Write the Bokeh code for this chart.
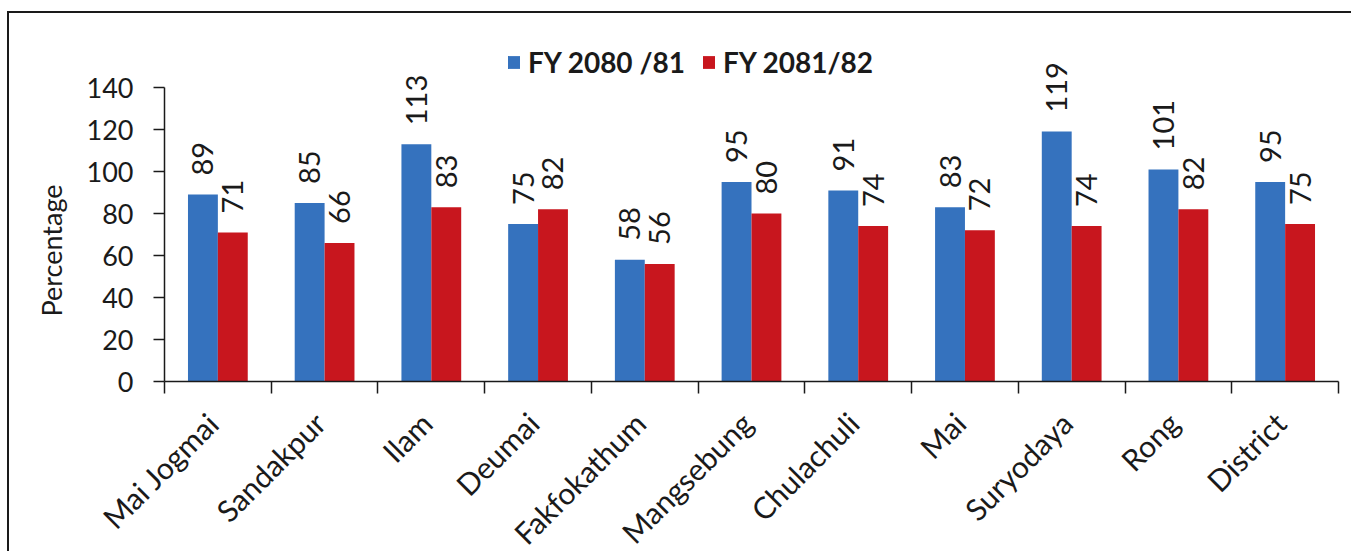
import math
from bokeh.plotting import figure
from bokeh.models import ColumnDataSource, Range1d, FixedTicker, Legend, LegendItem, Label
from bokeh.embed import file_html
from bokeh.resources import INLINE
from bokeh.core.properties import value
from bokeh.transform import dodge

categories = ["Mai Jogmai", "Sandakpur", "Ilam", "Deumai", "Fakfokathum", "Mangsebung",
              "Chulachuli", "Mai", "Suryodaya", "Rong", "District"]
fy_2080_81 = [89, 85, 113, 75, 58, 95, 91, 83, 119, 101, 95]
fy_2081_82 = [71, 66, 83, 82, 56, 80, 74, 72, 74, 82, 75]
series_names = ["FY 2080 /81", "FY 2081/82"]
y_ticks = [0, 20, 40, 60, 80, 100, 120, 140]
y_title = "Percentage"

BLUE = "#3572BE"
RED = "#C8161E"
INK = "#1a1a1a"
FONT = "Lato"

n = len(categories)
centers = [i + 0.5 for i in range(n)]
src = ColumnDataSource(dict(
    x=centers, cat=categories,
    a=fy_2080_81, b=fy_2081_82,
    ta=[str(v) for v in fy_2080_81], tb=[str(v) for v in fy_2081_82],
))

# layout (figure pixels): the plot frame fills the whole figure, the axes are pinned at 0
W, H = 1344, 540
AX, AY = 155, 368                 # where the y axis / x axis sit
CAT_PX = 1174.0 / n               # width of one category
PX_PER_UNIT = 294.0 / 140.0       # vertical scale
x_start = -AX / CAT_PX
x_end = (W - AX) / CAT_PX
y_end = AY / PX_PER_UNIT
y_start = -(H - AY) / PX_PER_UNIT

p = figure(width=W, height=H, output_backend="svg", toolbar_location=None,
           x_range=Range1d(x_start, x_end), y_range=Range1d(y_start, y_end),
           min_border_left=0, min_border_right=0, min_border_top=0, min_border_bottom=0)
p.styles = {"border-top": "2px solid #1a1a1a", "border-left": "2px solid #1a1a1a",
            "margin-top": "11px", "margin-left": "7px"}
p.outline_line_color = None
p.xgrid.visible = False
p.ygrid.visible = False

w = 0.28
r1 = p.vbar(x=dodge("x", -w / 2), top="a", bottom=0, width=w, source=src, fill_color=BLUE, line_color=None)
r2 = p.vbar(x=dodge("x", w / 2), top="b", bottom=0, width=w, source=src, fill_color=RED, line_color=None)

for col, off in (("a", -w / 2), ("b", w / 2)):
    p.text(x=dodge("x", off), y=col, text="t" + col, source=src, angle=math.pi / 2,
           text_align="left", text_baseline="middle", y_offset=-19,
           text_font=value(FONT), text_font_size="29px", text_color=INK)

# x axis, pinned at y = 0
label_shift = 5.0 / CAT_PX
label_pos = [c - label_shift for c in centers]
xa = p.xaxis[0]
xa.fixed_location = 0
xa.bounds = (0, n)
xa.ticker = FixedTicker(ticks=label_pos, minor_ticks=list(range(n + 1)))
xa.major_label_overrides = {c: name for c, name in zip(label_pos, categories)}
xa.major_tick_line_color = None
xa.major_tick_out = 0
xa.minor_tick_out = 12
xa.minor_tick_in = 0
xa.minor_tick_line_color = INK
xa.minor_tick_line_width = 1.5
xa.axis_line_color = INK
xa.axis_line_width = 1.5
xa.major_label_orientation = math.pi / 4
xa.major_label_text_font = FONT
xa.major_label_text_font_size = "30px"
xa.major_label_text_color = INK
xa.major_label_standoff = 24

# y axis, pinned at x = 0
ya = p.yaxis[0]
ya.fixed_location = 0
ya.ticker = FixedTicker(ticks=y_ticks, minor_ticks=[])
ya.bounds = (y_ticks[0], y_ticks[-1])
ya.major_tick_out = 11
ya.major_tick_in = 0
ya.major_tick_line_color = INK
ya.major_tick_line_width = 1.5
ya.axis_line_color = INK
ya.axis_line_width = 1.5
ya.major_label_text_font = FONT
ya.major_label_text_font_size = "27px"
ya.major_label_text_color = INK
ya.major_label_standoff = 20

p.add_layout(Label(x=42, y=H - 237, x_units="screen", y_units="screen", text=y_title,
                   angle=math.pi / 2, text_align="center", text_baseline="middle",
                   text_font=FONT, text_font_size="27px", text_color=INK))

legend = Legend(items=[LegendItem(label=series_names[0], renderers=[r1]),
                       LegendItem(label=series_names[1], renderers=[r2])],
                orientation="horizontal", location=(497, H - 66),
                glyph_width=15, glyph_height=16, label_standoff=7, spacing=16,
                padding=0, margin=0, border_line_color=None, background_fill_alpha=0,
                label_text_font=FONT, label_text_font_size="28px",
                label_text_font_style="bold", label_text_color=INK)
p.add_layout(legend, "center")

open("out.html", "w").write(file_html(p, INLINE))
